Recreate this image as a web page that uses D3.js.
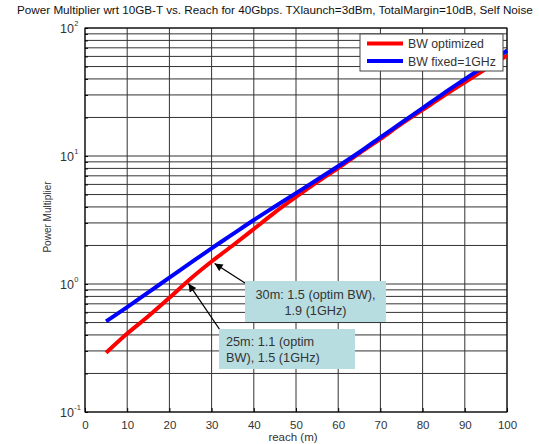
<!DOCTYPE html>
<html>
<head>
<meta charset="utf-8">
<script src="https://cdn.jsdelivr.net/npm/d3@7"></script>
<style>
  body { margin: 0; background: #fff; }
  text { font-family: "Liberation Sans", Arial, sans-serif; }
</style>
</head>
<body>
<div id="chart-area"></div>
<script>
// reach (m) and power multiplier for the two bandwidth cases
var reach = [5, 10, 15, 20, 25, 30, 35, 40, 45, 50, 55, 60, 65, 70, 75, 80, 85, 90, 95, 100];
var bwOptimized = [0.29, 0.41, 0.56, 0.78, 1.1, 1.5, 2.0, 2.69, 3.63, 4.79, 6.24, 8.04, 10.5, 13.6, 17.8, 22.9, 29.5, 37.6, 47.9, 61];
var bwFixed = [0.51, 0.66, 0.86, 1.12, 1.46, 1.9, 2.45, 3.16, 4.03, 5.13, 6.53, 8.32, 10.7, 14.0, 18.2, 23.7, 30.9, 39.8, 51.3, 66.7];

var seriesNames = ["BW optimized", "BW fixed=1GHz"];
var xTicks = [0, 10, 20, 30, 40, 50, 60, 70, 80, 90, 100];
var yExponents = [-1, 0, 1, 2];

var titleText = "Power Multiplier wrt 10GB-T vs. Reach for 40Gbps. TXlaunch=3dBm, TotalMargin=10dB, Self Noise";
var xLabel = "reach (m)";
var yLabel = "Power Multiplier";

// callouts: which reach they point at and their text lines
var noteReach = [30, 25];
var noteLines = [["30m: 1.5 (optim BW),", "1.9 (1GHz)"], ["25m: 1.1 (optim", "BW), 1.5 (1GHz)"]];

var svg = d3.select("#chart-area")
  .append("svg")
  .attr("width", 539)
  .attr("height", 444);

var x = d3.scaleLinear().domain([0, 100]).range([85, 507]);
var y = d3.scaleLog().domain([0.1, 100]).range([412, 28]);

// grid
svg.append("g")
  .selectAll("line")
  .data(y.ticks())
  .enter()
  .append("line")
    .attr("x1", 85).attr("x2", 507)
    .attr("y1", d => y(d)).attr("y2", d => y(d))
    .attr("stroke", "#333")
    .attr("stroke-width", 1);

svg.append("g")
  .selectAll("line")
  .data(xTicks)
  .enter()
  .append("line")
    .attr("x1", d => x(d)).attr("x2", d => x(d))
    .attr("y1", 28).attr("y2", 412)
    .attr("stroke", "#333")
    .attr("stroke-width", 1);

// axes (ticks inward, matlab style)
var xAxis = svg.append("g")
  .attr("transform", "translate(0,412)")
  .call(d3.axisBottom(x).tickValues(xTicks).tickSize(-4).tickPadding(9));
xAxis.select(".domain").remove();
xAxis.selectAll("text")
  .attr("font-size", "11.5px")
  .attr("fill", "#333")
  .attr("font-family", "Liberation Sans, Arial, sans-serif");
xAxis.selectAll("line").attr("stroke", "#000");

var yAxis = svg.append("g")
  .attr("transform", "translate(85,0)")
  .call(d3.axisLeft(y).tickValues(y.ticks()).tickSize(-3).tickFormat(""));
yAxis.select(".domain").remove();
yAxis.selectAll("line").attr("stroke", "#000");

svg.append("g")
  .selectAll("text")
  .data(yExponents)
  .enter()
  .append("text")
    .attr("x", 74)
    .attr("y", d => y(Math.pow(10, d)) + 4.5)
    .attr("text-anchor", "end")
    .attr("font-size", "12.5px")
    .attr("fill", "#333")
    .text("10");

svg.append("g")
  .selectAll("text")
  .data(yExponents)
  .enter()
  .append("text")
    .attr("x", 74.3)
    .attr("y", d => y(Math.pow(10, d)) - 2.5)
    .attr("font-size", "7.5px")
    .attr("fill", "#333")
    .text(d => d);

// frame
svg.append("rect")
  .attr("x", 85).attr("y", 28)
  .attr("width", 422).attr("height", 384)
  .attr("fill", "none")
  .attr("stroke", "#000")
  .attr("stroke-width", 1);

// curves
var line = d3.line()
  .curve(d3.curveMonotoneX)
  .x(d => x(d[0]))
  .y(d => y(d[1]));

var colors = ["#ff0000", "#0000ff"];
var seriesData = [bwOptimized, bwFixed];

seriesData.forEach((vals, i) => {
  svg.append("path")
    .datum(reach.map((r, j) => [r, vals[j]]))
    .attr("d", line)
    .attr("fill", "none")
    .attr("stroke", colors[i])
    .attr("stroke-width", 4);
});

// callouts
svg.append("defs").append("marker")
  .attr("id", "head")
  .attr("viewBox", "0 0 10 10")
  .attr("refX", 10).attr("refY", 5)
  .attr("markerWidth", 9).attr("markerHeight", 8)
  .attr("markerUnits", "userSpaceOnUse")
  .attr("orient", "auto")
  .append("path")
    .attr("d", "M0,0 L10,5 L0,10 Z")
    .attr("fill", "#000");

var boxes = [
  { x: 245, y: 281, w: 141, h: 41, anchor: "middle", tx: 315.5, ty: 299, tail: [245, 283], off: [3, 2] },
  { x: 219, y: 329, w: 136, h: 40, anchor: "start", tx: 226, ty: 346, tail: [220, 330], off: [-2, 5] }
];

boxes.forEach((b, i) => {
  var tx = x(noteReach[i]) + b.off[0];
  var ty = y(bwOptimized[reach.indexOf(noteReach[i])]) + b.off[1];
  svg.append("line")
    .attr("x1", b.tail[0]).attr("y1", b.tail[1])
    .attr("x2", tx).attr("y2", ty)
    .attr("stroke", "#000")
    .attr("stroke-width", 1.3)
    .attr("marker-end", "url(#head)");

  svg.append("rect")
    .attr("x", b.x).attr("y", b.y)
    .attr("width", b.w).attr("height", b.h)
    .attr("fill", "#b8dde1");

  svg.append("g")
    .selectAll("text")
    .data(noteLines[i])
    .enter()
    .append("text")
      .attr("x", b.tx)
      .attr("y", (d, k) => b.ty + k * 16)
      .attr("text-anchor", b.anchor)
      .attr("font-size", "12.7px")
      .attr("fill", "#333")
      .text(d => d);
});

// legend
var legend = svg.append("g");
legend.append("rect")
  .attr("x", 360).attr("y", 34)
  .attr("width", 143).attr("height", 37)
  .attr("fill", "#fff")
  .attr("stroke", "#444")
  .attr("stroke-width", 1);

seriesNames.forEach((name, i) => {
  legend.append("line")
    .attr("x1", 367).attr("x2", 403)
    .attr("y1", 43.5 + i * 17.5).attr("y2", 43.5 + i * 17.5)
    .attr("stroke", colors[i])
    .attr("stroke-width", 4);
  legend.append("text")
    .attr("x", 408)
    .attr("y", 48 + i * 17.5)
    .attr("font-size", "12.3px")
    .attr("fill", "#333")
    .text(name);
});

// titles
svg.append("text")
  .attr("x", 17).attr("y", 14)
  .attr("font-size", "11.7px")
  .attr("fill", "#111")
  .text(titleText);

svg.append("text")
  .attr("x", 293).attr("y", 441)
  .attr("text-anchor", "middle")
  .attr("font-size", "11.5px")
  .attr("fill", "#333")
  .text(xLabel);

svg.append("text")
  .attr("transform", "translate(51,217) rotate(-90)")
  .attr("text-anchor", "middle")
  .attr("font-size", "10px")
  .attr("fill", "#333")
  .text(yLabel);
</script>
</body>
</html>
